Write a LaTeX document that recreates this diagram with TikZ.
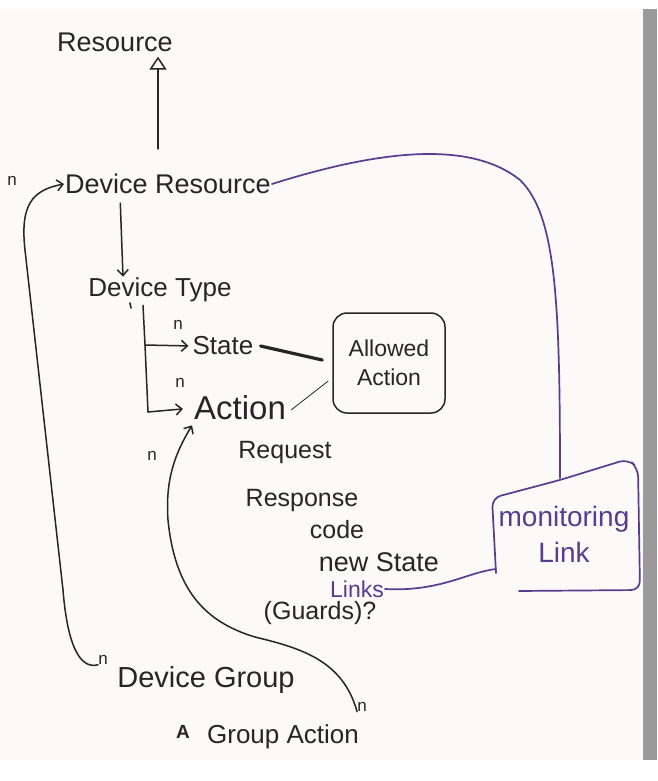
\documentclass[tikz,border=0pt]{standalone}
\usepackage{fontspec}
\setmainfont{Liberation Sans}
\usetikzlibrary{positioning,arrows.meta,calc}
\definecolor{wbink}{HTML}{262626}
\definecolor{wbpurple}{HTML}{5A3B8E}
\definecolor{wbboard}{HTML}{FCF9F9}
\definecolor{wbedge}{HTML}{9A9A9A}
\tikzset{
  hand/.style  ={font=\fontsize{25}{30}\selectfont, text=wbink, inner sep=1pt},
  phand/.style ={hand, text=wbpurple},
  mult/.style  ={font=\fontsize{17}{19}\selectfont, text=wbink, inner sep=0pt},
  pen/.style   ={draw=wbink, line width=1.5pt, line cap=round},
  ppen/.style  ={draw=wbpurple, line width=1.7pt, line cap=round},
  link/.style  ={pen, -{Straight Barb[length=6pt,width=11pt]}},
}
\begin{document}
\begin{tikzpicture}[x=1pt,y=-1pt]
  \useasboundingbox (0,0) rectangle (657,781);
  % board
  \fill[white] (0,0) rectangle (657,781);
  \fill[wbboard] (0,9) rectangle (643,760);
  \fill[wbedge] (643,9) rectangle (657,760);

  % entities
  \node[hand, font=\fontsize{27}{31}\selectfont] (res) at (115,42) {Resource};
  \node[hand, font=\fontsize{27}{31}\selectfont] (devres) at (168,184) {Device Resource};
  \node[hand, font=\fontsize{26}{30}\selectfont] (devtype) at (160,290) {Device Type};
  \node[hand, font=\fontsize{26}{30}\selectfont] (state) at (223,346) {State};
  \node[hand, font=\fontsize{33}{37}\selectfont] (act) at (240,408) {Action};
  \node[hand, draw=wbink, line width=1.5pt, rounded corners=14pt,
        minimum width=112, minimum height=100, align=center,
        font=\fontsize{23}{29}\selectfont] (allow) at (389,363) {Allowed\\Action};
  \node[hand] (req)    at (285,452) {Request};
  \node[hand] (resp)   at (302,500) {Response};
  \node[hand] (code)   at (337,530) {code};
  \node[hand, font=\fontsize{27}{31}\selectfont] (newst) at (379,562) {new State};
  \node[phand, font=\fontsize{23}{26}\selectfont] (links) at (357,589) {Links};
  \node[hand] (guards) at (320,613) {(Guards)?};
  \node[phand, align=center, font=\fontsize{28}{36}\selectfont] (mon) at (564,534) {monitoring\\Link};
  \node[hand, font=\fontsize{29}{33}\selectfont] (devgrp) at (206,680) {Device Group};
  \node[hand, font=\fontsize{26}{30}\selectfont] (grpact) at (283,737) {Group Action};
  \node[mult, font=\fontsize{19}{21}\selectfont\bfseries] (crossA) at (183,732) {A};

  % multiplicities
  \node[mult] (nres)   at (12,181)  {n};
  \node[mult] (nstate) at (178,325) {n};
  \node[mult] (nact)   at (180,383) {n};
  \node[mult] (ngact)  at (152,456) {n};
  \node[mult] (ngrp)   at (103,660) {n};
  \node[mult] (ngrpa)  at (362,707) {n};

  % inheritance and containment
  \draw[pen, shorten <=24pt, -{Triangle[open, length=13pt, width=17pt, line width=1.5pt]}]
    ([xshift=-10pt]devres.north) -- ([xshift=43pt, yshift=-4pt]res.south);
  \draw[link, shorten <=8pt] ([xshift=-48pt]devres.south) -- ([xshift=-37pt]devtype.north);

  % device type members
  \coordinate (spine) at (145,345);
  \draw[pen] ([xshift=-17pt, yshift=-2pt]devtype.south) -- (spine) -- (148,412);
  \draw[link, shorten >=3pt] (spine) -- (state.west);
  \draw[link, shorten >=10pt] (148,412) -- (act.west);
  \draw[pen, line width=1.6pt] (130,303) -- (131,308);

  % allowed action association
  \draw[draw=wbink, line width=3.2pt, line cap=round] ([xshift=6pt]state.east) -- ([shift={(-10pt,3pt)}]allow.west);
  \draw[draw=wbink, line width=0.8pt] ([xshift=4pt, yshift=-2pt]act.east) -- ([shift={(-4pt,-18pt)}]allow.west);

  % device group aggregates device resources
  \draw[link] (ngrp.south west) .. controls (78,670) and (67,640) .. (63,590)
    -- (25,250) .. controls (20,205) and (32,190) .. (devres.west);

  % group action refers to action
  \draw[link] (ngrpa.south west) .. controls (343,660) and (300,648) .. (255,637)
    .. controls (205,622) and (175,590) .. (168,520)
    .. controls (165,478) and (176,452) .. ([xshift=-48pt, yshift=-4pt]act.south);

  % monitoring link
  \draw[ppen, rounded corners=9pt] (496,573) -- (492,498) -- (560,480) -- (628,459)
    -- (638,468) -- (640,590) -- (519,591);
  \draw[ppen] (devres.east) .. controls (380,150) and (470,140) .. (520,180)
    .. controls (556,215) and (560,300) .. (560,478);
  \draw[ppen] (links.east) .. controls (440,592) and (468,572) .. (496,569);
\end{tikzpicture}
\end{document}
